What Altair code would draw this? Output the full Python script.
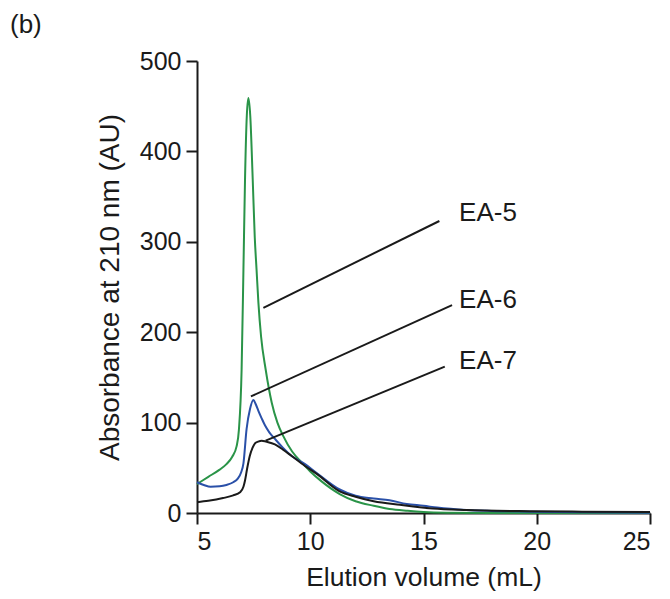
import altair as alt
import pandas as pd

# EA-5 (green)
ea5_x = [5.0, 5.5, 6.0, 6.3, 6.55, 6.75, 6.85, 6.97, 7.05, 7.12, 7.2, 7.27, 7.35, 7.46, 7.55, 7.63, 7.71, 7.83,
         8.03, 8.3, 8.55, 8.81, 9.2, 9.62, 10.0, 10.5, 11.3, 12.0, 12.8, 13.5, 14.3, 15.0, 16.0, 18.0, 20.0, 25.0]
ea5_y = [32, 40, 48, 54, 62, 74, 92, 159, 269, 369, 440, 459, 440, 369, 305, 269, 233, 195,
         159, 122, 100, 85, 68, 56, 46, 35, 21, 13, 8, 4.5, 2.5, 1.2, 0.4, 0, 0, 0]

# EA-6 (blue)
ea6_x = [5.0, 5.3, 5.6, 6.0, 6.3, 6.6, 6.8, 6.95, 7.05, 7.19, 7.34, 7.49, 7.6, 7.71, 7.85, 8.0, 8.2, 8.44, 8.8,
         9.18, 9.77, 10.3, 11.3, 12.0, 12.8, 13.5, 14.26, 15.0, 15.6, 16.9, 18.0, 19.8, 22.0, 25.0]
ea6_y = [34, 31, 29, 29.5, 31, 34, 38, 45, 55, 93, 115, 125, 120, 113, 105, 97, 89, 82, 72,
         63, 54, 44, 26, 19, 16, 14, 10, 8, 6, 3.3, 2.3, 1.5, 0.8, 0.3]

# EA-7 (black)
ea7_x = [5.0, 5.5, 6.15, 6.6, 6.9, 7.05, 7.12, 7.22, 7.33, 7.45, 7.56, 7.7, 7.86, 8.05, 8.44, 8.8, 9.18, 9.77,
         10.3, 11.3, 12.0, 12.8, 13.96, 15.4, 16.9, 19.8, 22.0, 25.0]
ea7_y = [12, 13.5, 16.5, 19.5, 23, 29, 36, 50, 63, 72, 77, 79, 80, 79, 76, 70, 63, 52,
         43, 24, 18, 13, 9, 5, 3.3, 2, 1.5, 1]

series_names = ["EA-5", "EA-6", "EA-7"]
series_colors = ["#2a9448", "#2a50a8", "#1a1a1a"]

# leader lines: start (x, y) near curve, end (x2, y2) near label
leader_x = [7.93, 7.38, 8.03]
leader_y = [227, 129, 80]
leader_x2 = [15.7, 16.26, 15.94]
leader_y2 = [323, 230, 162]

label_x = [16.57, 16.57, 16.57]
label_y = [332, 236, 168]

x_ticks = [5, 10, 15, 20, 25]
y_ticks = [0, 100, 200, 300, 400, 500]

rows = []
for name, xs, ys in zip(series_names, [ea5_x, ea6_x, ea7_x], [ea5_y, ea6_y, ea7_y]):
    for i, (a, b) in enumerate(zip(xs, ys)):
        rows.append({"series": name, "x": a, "y": b, "order": i})
df = pd.DataFrame(rows)

leaders = pd.DataFrame({"x": leader_x, "y": leader_y, "x2": leader_x2, "y2": leader_y2})
labels = pd.DataFrame({"x": label_x, "y": label_y, "text": series_names})

FONT = "Liberation Sans"

xscale = alt.Scale(domain=[5, 25], nice=False, zero=False)
yscale = alt.Scale(domain=[0, 500], nice=False)

lines = alt.Chart(df).mark_line(strokeWidth=2, interpolate="monotone").encode(
    x=alt.X("x:Q", scale=xscale,
            axis=alt.Axis(values=x_ticks, title="Elution volume (mL)", format="d",
                          titleFontSize=26.5, titlePadding=10)),
    y=alt.Y("y:Q", scale=yscale,
            axis=alt.Axis(values=y_ticks, title="Absorbance at 210 nm (AU)", format="d",
                          titleFontSize=28, titlePadding=15)),
    color=alt.Color("series:N", scale=alt.Scale(domain=series_names, range=series_colors), legend=None),
    detail="series:N",
    order="order:Q",
)

rules = alt.Chart(leaders).mark_rule(strokeWidth=2, color="#1a1a1a").encode(
    x="x:Q", y="y:Q", x2="x2:Q", y2="y2:Q"
)

texts = alt.Chart(labels).mark_text(align="left", baseline="middle", fontSize=26, font=FONT,
                                     color="#1a1a1a").encode(
    x="x:Q", y="y:Q", text="text:N"
)

panel = alt.Chart(pd.DataFrame({"t": ["(b)"]})).mark_text(
    align="left", baseline="middle", fontSize=26, font=FONT, color="#1a1a1a"
).encode(x=alt.value(-187), y=alt.value(-36), text="t:N")

chart = alt.layer(lines, rules, texts, panel).properties(
    width=453, height=452,
    autosize=alt.AutoSizeParams(type="none"),
    padding={"left": 189, "top": 53, "right": 12, "bottom": 78},
).configure_view(stroke=None).configure_axis(
    grid=False,
    domainColor="#1a1a1a", domainWidth=2,
    tickColor="#1a1a1a", tickWidth=2, tickSize=11,
    labelFont=FONT, labelFontSize=25, labelColor="#1a1a1a", labelPadding=5,
    titleFont=FONT, titleColor="#1a1a1a", titleFontWeight="normal",
)

chart.save("out.html", embed_options={"renderer": "svg", "actions": False})
